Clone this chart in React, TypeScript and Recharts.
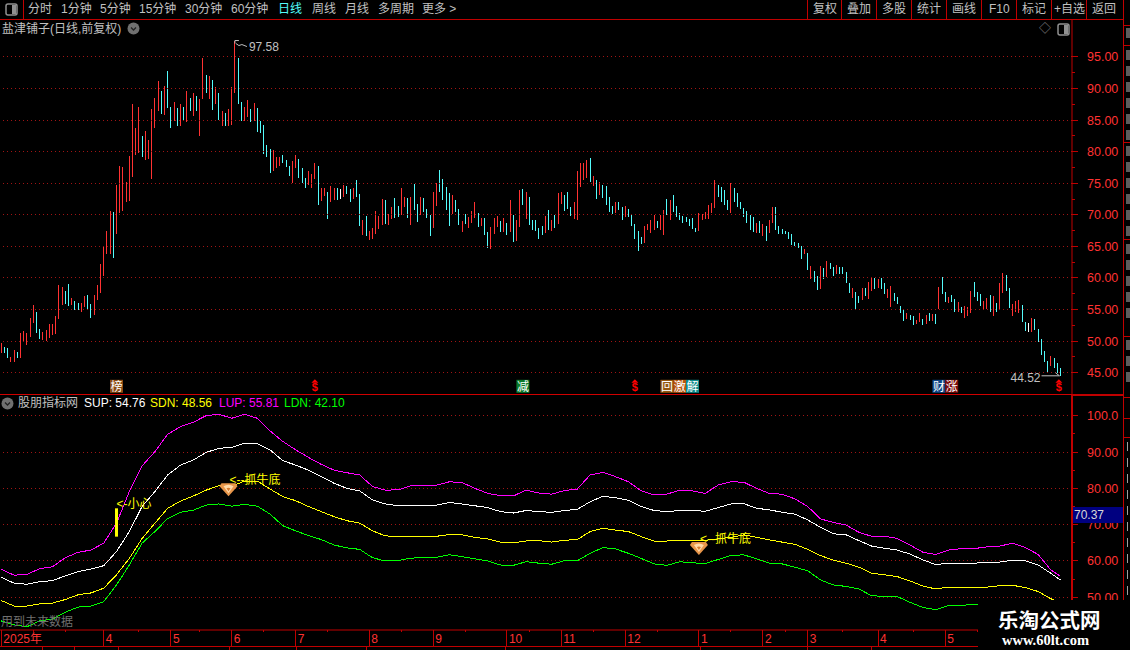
import React from "react";
import { Bar, ComposedChart, Line, ReferenceDot, ReferenceLine, XAxis, YAxis } from "recharts";

// daily range of each session
const highs = [
  49.64, 49.01, 48.85, 47.43, 48.53, 48.22, 51.22, 51.54, 51.22, 53.6,
  55.65, 54.55, 51.86, 51.38, 51.7, 52.65, 52.65, 53.91, 58.82, 58.5,
  57.87, 58.98, 56.76, 56.29, 55.97, 55.97, 57.08, 57.24, 55.81, 57.24,
  58.82, 62.14, 64.83, 67.36, 70.68, 70.37, 74.64, 77.65, 77.49, 75.27,
  79.23, 87.46, 83.66, 87.14, 82.55, 83.34, 81.76, 86.67, 88.41, 91.25,
  89.67, 90.46, 92.68, 87.14, 87.93, 86.98, 87.61, 87.14, 89.67, 88.56,
  89.35, 88.88, 88.25, 94.89, 92.2, 92.04, 91.41, 90.3, 89.35, 86.35,
  86.19, 86.82, 90.15, 97.58, 94.89, 87.93, 87.14, 88.09, 86.67, 87.77,
  86.98, 84.77, 84.29, 80.97, 80.49, 80.18, 79.07, 79.07, 79.39, 78.75,
  77.8, 78.44, 79.39, 78.91, 77.33, 75.75, 76.86, 76.38, 78.12, 77.65,
  74.32, 74.17, 73.53, 74.48, 74.17, 74.17, 74.01, 74.64, 74.48, 74.01,
  74.32, 75.43, 73.25, 69.13, 69.77, 67.39, 67.87, 70.56, 69.77, 72.46,
  72.3, 70.08, 71.19, 72.62, 71.35, 74.2, 72.77, 72.62, 72.77, 74.83,
  71.67, 72.77, 72.62, 70.87, 69.93, 73.57, 74.99, 77.05, 75.62, 74.36,
  73.41, 73.09, 72.3, 70.87, 68.98, 70.08, 69.61, 70.56, 71.98, 70.24,
  69.45, 69.45, 67.24, 68.03, 69.45, 69.77, 68.98, 69.45, 68.66, 72.3,
  69.93, 69.13, 73.88, 74.04, 73.57, 72.77, 69.13, 69.13, 67.87, 68.18,
  69.77, 70.72, 69.13, 69.93, 73.41, 73.57, 73.09, 73.57, 71.19, 71.98,
  76.89, 78.15, 78.15, 78.63, 78.94, 76.1, 75.46, 75.15, 74.67, 74.51,
  72.77, 71.35, 71.98, 71.98, 71.19, 71.35, 70.87, 70.08, 68.5, 67.39,
  66.44, 68.18, 68.5, 69.13, 69.93, 68.98, 69.93, 70.72, 72.46, 72.3,
  73.09, 71.35, 70.24, 69.77, 69.61, 69.29, 69.45, 67.87, 70.24, 70.08,
  70.4, 71.51, 71.82, 75.46, 74.67, 74.42, 73.95, 72.36, 75.05, 74.26,
  73.47, 72.05, 71.1, 70.62, 69.99, 69.67, 68.72, 69.04, 68.57, 68.25,
  69.2, 71.26, 71.26, 68.25, 67.78, 67.46, 67.3, 66.98, 65.72, 65.56,
  65.08, 64.61, 63.98, 61.92, 61.13, 60.34, 61.92, 61.6, 62.71, 62.4,
  61.76, 62.08, 61.76, 61.76, 60.97, 59.23, 58.44, 57.81, 57.17, 58.44,
  58.44, 59.39, 60.18, 60.02, 59.86, 60.02, 59.23, 58.28, 58.76, 57.65,
  57.02, 55.62, 55.15, 54.51, 54.2, 54.04, 53.41, 54.51, 53.56, 54.2,
  54.51, 54.35, 54.35, 58.63, 60.21, 57.84, 57.04, 57.36, 56.73, 56.25,
  55.46, 55.62, 55.46, 57.99, 59.42, 57.84, 57.52, 56.41, 56.89, 57.36,
  57.2, 56.09, 59.26, 60.84, 60.53, 58.47, 55.94, 56.41, 56.57, 55.78,
  53.09, 52.93, 53.72, 53.56, 51.98, 50.4, 48.5, 46.92, 47.71, 47.39,
  46.6, 45.81,
];
const lows = [
  48.06, 48.06, 47.27, 46.64, 46.64, 47.27, 47.27, 49.8, 49.33, 50.59,
  52.81, 51.22, 50.27, 50.12, 49.96, 50.43, 50.91, 51.07, 53.44, 55.65,
  55.81, 55.5, 55.65, 54.86, 54.86, 54.55, 55.34, 54.86, 53.6, 54.07,
  56.44, 57.55, 60.24, 63.72, 63.72, 63.09, 66.89, 70.21, 70.53, 71.95,
  72.11, 76.06, 79.39, 79.86, 79.07, 78.6, 78.91, 75.59, 83.66, 86.35,
  86.03, 85.87, 86.98, 83.66, 84.92, 84.13, 84.13, 85.08, 84.61, 86.35,
  85.56, 86.35, 82.55, 88.25, 89.2, 88.25, 86.51, 87.46, 85.08, 84.13,
  84.13, 83.98, 84.29, 89.2, 87.46, 84.92, 84.92, 85.4, 84.61, 84.77,
  83.03, 82.87, 79.55, 79.07, 76.54, 76.86, 77.33, 77.65, 78.12, 77.49,
  76.22, 75.11, 77.33, 75.75, 75.11, 74.32, 74.64, 74.32, 75.59, 71.63,
  72.11, 72.9, 69.26, 71.95, 72.27, 72.27, 72.43, 72.74, 73.22, 71.95,
  72.58, 72.74, 68.18, 66.76, 66.6, 65.97, 66.13, 66.92, 67.71, 68.34,
  68.5, 68.34, 69.29, 69.45, 69.61, 69.93, 71.19, 69.45, 68.34, 70.72,
  68.82, 69.93, 70.4, 69.45, 66.6, 67.87, 71.35, 73.57, 72.3, 70.72,
  68.18, 70.08, 70.4, 68.34, 67.24, 68.5, 67.87, 68.66, 69.45, 68.03,
  68.18, 66.76, 64.7, 64.55, 66.92, 68.03, 67.24, 67.24, 66.76, 67.24,
  65.65, 65.81, 68.03, 71.51, 69.29, 68.34, 67.55, 67.39, 66.13, 66.76,
  67.08, 67.55, 67.39, 67.87, 68.5, 71.67, 70.56, 70.87, 69.77, 69.29,
  69.13, 74.36, 75.46, 75.78, 75.15, 74.51, 72.46, 73.09, 72.62, 71.51,
  70.4, 70.08, 70.24, 70.72, 69.13, 69.61, 69.61, 68.18, 66.13, 64.23,
  65.34, 65.5, 67.55, 67.08, 67.55, 67.87, 67.55, 66.76, 69.93, 69.13,
  70.4, 69.61, 69.13, 68.66, 68.82, 68.18, 67.71, 67.24, 67.39, 69.13,
  69.29, 69.29, 70.24, 71.03, 72.77, 72.05, 71.57, 70.78, 70.31, 72.05,
  71.26, 70.94, 69.67, 68.72, 67.62, 67.3, 67.14, 67.14, 66.67, 65.88,
  67.14, 68.72, 67.62, 66.98, 66.98, 66.98, 66.19, 65.24, 65.08, 64.77,
  63.03, 63.82, 61.29, 59.86, 59.39, 58.12, 58.28, 59.86, 60.18, 61.45,
  60.34, 60.66, 60.66, 60.66, 59.23, 57.65, 56.86, 55.12, 56.07, 56.54,
  57.17, 56.7, 57.97, 58.28, 58.44, 58.28, 57.49, 56.86, 55.43, 56.38,
  55.91, 54.51, 53.25, 53.56, 53.41, 52.61, 52.77, 53.09, 52.61, 52.77,
  53.25, 53.25, 52.77, 55.15, 57.52, 56.25, 56.09, 56.25, 54.67, 54.67,
  54.51, 53.72, 54.04, 54.51, 57.04, 56.41, 55.62, 54.99, 55.15, 54.67,
  54.04, 54.67, 54.99, 57.68, 57.99, 55.3, 54.04, 54.67, 54.51, 53.09,
  51.66, 51.51, 51.51, 51.82, 49.92, 47.87, 46.76, 45.18, 46.13, 45.81,
  45.02, 44.52,
];
// r = up, c = down, w = flat
const dayDirs = [
  "rccrrcrrrr", "rccrrrrrrr", "ccrccrrccr", "rrrrrcrrrr", "rrrrcrrrrr", "crccrcrcrc", "rcrrcrcrcr",
  "crrrccrrcr", "cccccrrrcc", "crrcccrrrc", "rrcrrcwrcc", "rccrcrrrrr", "crrccrrcrc", "crcccrrccc",
  "crccrcrrrc", "rccrrrcrcr", "crrcrccccc", "rcrcrrcccr", "rrrrcrcrcc", "ccrccrcccc", "crrrrcrrcr",
  "ccccccccrr", "rrrrccccrc", "ccccccrcrc", "rrcccccccc", "crcrccrcrc", "crccccrccr", "crrcrccrrc",
  "cccrccrrcr", "crcrccrccr", "crrrcccrrc", "rcrrccrrrc", "cwrcccccrc", "cc",
].join("");

// indicator bands, sampled every few sessions
const bandDays = [
  0, 4, 8, 12, 16, 20, 24, 28, 32, 36, 40, 44, 48, 52, 56, 60, 64, 68, 72, 76, 80,
  84, 88, 92, 96, 100, 104, 108, 112, 116, 120, 124, 128, 132, 136, 140, 144, 148, 152, 156, 160,
  164, 168, 172, 176, 180, 184, 188, 192, 196, 200, 204, 208, 212, 216, 220, 224, 228, 232, 236, 240,
  244, 248, 252, 256, 260, 264, 268, 272, 276, 280, 284, 288, 292, 296, 300, 304, 308, 312, 316, 320,
  324, 328, 331,
];
const lupValues = [
  57.7, 56.1, 56.3, 57.9, 58.4, 60.9, 62.4, 63.0, 64.9, 70.4, 79.1, 86.2, 90.1, 94.9, 97.0, 98.2, 100.0, 100.4, 99.3, 100.4, 99.3,
  95.8, 92.9, 90.6, 88.5, 86.6, 85.0, 84.3, 83.7, 80.5, 79.5, 79.6, 80.7, 80.8, 80.9, 81.8, 81.6, 80.0, 78.6, 78.0, 77.9,
  79.5, 78.7, 78.4, 79.4, 79.8, 83.7, 84.4, 83.2, 81.8, 79.3, 78.2, 78.4, 79.5, 79.3, 78.6, 80.9, 81.8, 81.7, 80.0, 78.6,
  78.4, 77.1, 75.0, 71.6, 70.6, 69.9, 67.9, 66.8, 66.8, 66.2, 64.4, 62.4, 61.8, 63.0, 63.4, 63.4, 63.9, 64.1, 64.9, 63.7,
  61.8, 57.5, 55.81,
];
const supValues = [
  55.5, 53.9, 53.6, 54.3, 54.6, 55.9, 57.1, 57.8, 58.7, 62.6, 68.1, 75.0, 79.1, 83.7, 86.4, 87.8, 89.9, 91.0, 91.3, 92.4, 92.3,
  90.6, 87.6, 86.4, 85.0, 83.2, 81.4, 80.0, 79.3, 76.8, 75.7, 75.2, 75.3, 75.3, 75.4, 76.1, 75.7, 75.2, 74.7, 73.6, 73.2,
  73.9, 73.6, 73.4, 73.9, 74.2, 76.3, 77.8, 77.4, 76.7, 75.0, 73.9, 73.6, 73.9, 73.9, 73.7, 74.7, 75.7, 75.8, 74.5, 74.1,
  73.4, 72.9, 71.3, 69.3, 67.5, 67.2, 65.6, 64.1, 63.5, 63.0, 61.9, 60.3, 59.0, 59.4, 59.4, 59.4, 59.6, 59.7, 60.2, 60.1,
  58.9, 56.6, 54.76,
];
const sdnValues = [
  49.1, 47.6, 47.6, 48.2, 48.4, 49.4, 50.7, 51.2, 52.5, 56.2, 60.7, 66.2, 70.4, 74.5, 76.5, 77.9, 79.5, 80.7, 80.6, 82.0, 82.0,
  79.8, 77.7, 76.6, 75.0, 73.6, 72.2, 71.1, 70.4, 68.3, 66.9, 66.8, 66.8, 66.8, 66.8, 67.3, 67.2, 66.5, 66.1, 65.2, 65.0,
  65.5, 65.6, 65.2, 65.7, 65.9, 68.1, 69.0, 68.5, 68.1, 66.7, 65.5, 65.5, 65.7, 65.7, 65.7, 66.1, 66.5, 67.2, 66.5, 65.8,
  65.2, 64.6, 63.2, 61.5, 60.2, 59.4, 58.3, 56.6, 56.2, 55.7, 54.5, 53.1, 52.3, 52.8, 52.6, 52.8, 52.8, 53.2, 53.3, 52.7,
  51.6, 49.6, 48.56,
];
const ldnValues = [
  43.5, 42.4, 41.9, 43.5, 44.0, 45.9, 47.3, 47.6, 48.8, 53.4, 58.9, 64.9, 68.1, 71.7, 73.4, 74.0, 75.4, 75.7, 75.1, 75.6, 75.1,
  72.9, 69.7, 68.3, 67.0, 65.9, 64.4, 63.6, 63.2, 60.9, 60.0, 60.1, 60.8, 60.9, 61.0, 61.7, 61.2, 60.6, 60.0, 58.9, 58.8,
  59.8, 59.4, 59.1, 60.1, 60.1, 62.1, 63.7, 63.3, 62.1, 60.7, 59.2, 58.8, 59.8, 59.5, 59.3, 60.4, 61.5, 61.7, 60.6, 59.4,
  59.2, 58.3, 57.3, 54.8, 53.4, 53.0, 52.3, 50.4, 50.3, 50.2, 48.6, 47.2, 46.6, 47.7, 47.8, 48.0, 48.1, 48.3, 48.4, 47.4,
  46.1, 43.3, 42.1,
];

// axis labels
const priceMajor = [45, 50, 55, 60, 65, 70, 75, 80, 85, 90, 95];
const priceMinor = [47.5, 52.5, 57.5, 62.5, 67.5, 72.5, 77.5, 82.5, 87.5, 92.5];
const bandMajor = [50, 60, 70, 80, 90, 100];
const bandMinor = [55, 65, 75, 85, 95];
const monthDays = [0, 32, 53, 72, 92, 115, 135, 158, 175, 195, 218, 238, 252, 274, 295];
const monthNames = ["2025年", "4", "5", "6", "7", "8", "9", "10", "11", "12", "1", "2", "3", "4", "5"];
const weekDays = [
  10, 20, 43, 62, 82, 102, 125, 145, 165, 185, 205, 228, 245, 263, 285, 305, 315,
];

// event chips along the bottom of the price panel
const eventDays = [36, 163, 208, 212, 216, 293, 297];
const eventNames = ["榜", "减", "回", "激", "解", "财", "涨"];
const eventFills = ["#8a4a12", "#0b7a2a", "#94560f", "#b8560f", "#0f8c8c", "#0d4486", "#7c0c0c"];
const dollarDays = [98, 198, 330.5];
const bottomDays = [71, 218];
const bottomValues = [80, 63.85];

const RED = "#ff3232";
const LINE_RED = "#c00000";
const GRID_RED = "#a01414";
const GRAY = "#c0c0c0";
const FONT = '"Liberation Sans","Noto Sans CJK SC",sans-serif';

const dirColour: Record<string, string> = { r: RED, c: "#54fcfc", w: "#ffffff" };
const priceRows = highs.map((h, i) => ({ day: i, range: [lows[i], h], dir: dayDirs[i] }));
const bandRows = bandDays.map((d, i) => ({
  day: d,
  lup: lupValues[i],
  sup: supValues[i],
  sdn: sdnValues[i],
  ldn: ldnValues[i],
}));

// shared horizontal scale for both panels
const DAY_DOMAIN = [-0.40625, 334.59375];

const DayBar = (props: any) => {
  const { x, y, width, height, payload } = props;
  return (
    <rect
      x={Math.floor(x + width / 2)}
      y={y}
      width={1}
      height={height}
      fill={dirColour[payload.dir]}
      shapeRendering="crispEdges"
    />
  );
};

const makeAxisTick = (major: number[], label: (v: number) => string) => (props: any) => {
  const { x, y, payload } = props;
  const isMajor = major.includes(payload.value);
  return (
    <g>
      <line x1={x} x2={x + (isMajor ? 6 : 3)} y1={y} y2={y} stroke={LINE_RED} shapeRendering="crispEdges" />
      {isMajor && (
        <text x={x + 15} y={y + 4.5} fill={RED} fontSize={12.5} fontFamily={FONT}>
          {label(payload.value)}
        </text>
      )}
    </g>
  );
};
const PriceTick = makeAxisTick(priceMajor, (v) => v.toFixed(2));
const BandTick = makeAxisTick(bandMajor, (v) => (v === 100 ? "100.0" : v.toFixed(2)));

const MonthTick = (props: any) => {
  const { x, y, payload } = props;
  const at = monthDays.indexOf(payload.value);
  if (at < 0) {
    return <line x1={x} x2={x} y1={y} y2={y + 2} stroke={LINE_RED} shapeRendering="crispEdges" />;
  }
  return (
    <g>
      <line x1={x} x2={x} y1={y} y2={y + 16} stroke={LINE_RED} shapeRendering="crispEdges" />
      <text x={x + 2} y={y + 13} fill={RED} fontSize={12} fontFamily={FONT}>
        {monthNames[at]}
      </text>
    </g>
  );
};

const EventChip = (props: any) => {
  const { cx, cy, name, fill } = props;
  return (
    <g>
      <rect x={cx - 6.5} y={cy - 6.5} width={13} height={13} fill={fill} />
      <text x={cx} y={cy + 5} textAnchor="middle" fill="#fff" fontSize={12} fontFamily={FONT}>
        {name}
      </text>
    </g>
  );
};

const DollarMark = (props: any) => {
  const { cx, cy } = props;
  return (
    <g>
      <path d={`M${cx} ${cy - 7}l3.5 3.5h-7z`} fill="#ff0000" />
      <text x={cx} y={cy + 5} textAnchor="middle" fill="#ff0000" fontSize={11} fontWeight={700} fontFamily={FONT}>
        $
      </text>
    </g>
  );
};

const HighMark = (props: any) => {
  const { cx, cy } = props;
  return (
    <g>
      <path d={`M${cx} ${cy + 3}v-3h4M${cx + 1} ${cy + 3}l3 2 3 -1 5 2`} fill="none" stroke={GRAY} />
      <text x={cx + 14} y={cy + 10} fill={GRAY} fontSize={12} fontFamily={FONT}>
        97.58
      </text>
    </g>
  );
};

const LowMark = (props: any) => {
  const { cx, cy } = props;
  return (
    <g>
      <path d={`M${cx - 19} ${cy}h18M${cx - 5} ${cy - 3}l4 3`} fill="none" stroke={GRAY} />
      <text x={cx - 50} y={cy + 6} fill={GRAY} fontSize={12} fontFamily={FONT}>
        44.52
      </text>
    </g>
  );
};

const BottomMark = (props: any) => {
  const { cx, cy } = props;
  return (
    <g>
      <path d={`M${cx - 7} ${cy - 5}h14l2 3-9 10-9-10z`} fill="#e8964a" />
      <path d={`M${cx - 5} ${cy - 2}q5 -3 10 0l-5 7z`} fill="#ffd9a8" />
      <path d={`M${cx - 2} ${cy}q2 -1 4 0l-2 3z`} fill="#d87a30" />
      <text x={cx + 1} y={cy - 4} fill="#ffff00" fontSize={12} fontFamily={FONT}>
        {"<--抓牛底"}
      </text>
    </g>
  );
};

const CareMark = (props: any) => {
  const { cx, cy } = props;
  return (
    <text x={cx} y={cy} fill="#ffff00" fontSize={12} fontFamily={FONT}>
      {"<-小心"}
    </text>
  );
};

// plain page furniture around the two panels
const Label = ({ x, y, color = GRAY, size = 12, children, weight, family }: any) => (
  <span
    style={{
      position: "absolute",
      left: x,
      top: y,
      color,
      fontSize: size,
      lineHeight: "16px",
      whiteSpace: "nowrap",
      fontWeight: weight,
      fontFamily: family || FONT,
    }}
  >
    {children}
  </span>
);
const Rule = ({ x, y, w, h, color = LINE_RED }: any) => (
  <div style={{ position: "absolute", left: x, top: y, width: w, height: h, background: color }} />
);
const RoundIcon = ({ x, y }: any) => (
  <svg style={{ position: "absolute", left: x, top: y }} width={13} height={13}>
    <circle cx={6.5} cy={6.5} r={6} fill="#707070" />
    <path d="M4 5.5l2.5 2.5 2.5-2.5" fill="none" stroke="#222" strokeWidth={1.3} />
  </svg>
);
const PanelIcon = ({ x, y }: any) => (
  <svg style={{ position: "absolute", left: x, top: y }} width={13} height={13}>
    <rect x={1} y={1} width={11} height={11} rx={2} fill="none" stroke="#909090" strokeWidth={1.5} />
    <rect x={7} y={2} width={4} height={9} fill="#909090" />
  </svg>
);

const toolbarLeft = ["分时", "1分钟", "5分钟", "15分钟", "30分钟", "60分钟", "日线", "周线", "月线", "多周期", "更多 >"];
const toolbarLeftX = [28, 61, 100, 139, 185, 231, 278, 312, 345, 378, 422];
const toolbarRight = ["复权", "叠加", "多股", "统计", "画线", "F10", "标记", "+自选", "返回"];
const toolbarRightX = [813, 847, 882, 917, 952, 989, 1022, 1054, 1092];
const toolbarRules = [807, 841, 876, 911, 946, 981, 1016, 1051, 1086, 1123];
const sideRules = [25, 45, 142, 239, 336, 397, 418, 437];
const sideRows = [28, 50, 66, 82, 98, 114, 130, 146, 162, 178, 194, 210, 226, 244, 260, 276, 292, 308, 340, 356, 372];
const sideDigitRows = [442, 458, 474, 490, 506, 522, 538, 554, 570, 586];
const bottomRules = [42, 74, 118, 229, 296, 366, 505, 700, 807, 871];

export default function App() {
  return (
    <div
      style={{
        position: "fixed",
        left: 0,
        top: 0,
        width: 1130,
        height: 650,
        background: "#000",
        overflow: "hidden",
        fontFamily: FONT,
      }}
    >
      <div style={{ position: "absolute", left: 0, top: 20 }}>
        <ComposedChart width={1130} height={374} data={priceRows} margin={{ top: 0, right: 0, bottom: 0, left: 0 }}>
          <XAxis dataKey="day" type="number" domain={DAY_DOMAIN} allowDataOverflow hide />
          <YAxis
            orientation="right"
            width={58}
            domain={[41.64, 100.83]}
            allowDataOverflow
            ticks={[...priceMajor, ...priceMinor]}
            interval={0}
            tick={PriceTick}
            tickLine={false}
            tickSize={0}
            tickMargin={0}
            axisLine={{ stroke: LINE_RED }}
          />
          {priceMajor.map((v) => (
            <ReferenceLine key={v} y={v} stroke={GRID_RED} strokeDasharray="1 3" shapeRendering="crispEdges" />
          ))}
          <Bar dataKey="range" barSize={1} shape={DayBar} isAnimationActive={false} />
          <ReferenceDot x={73} y={97.58} shape={HighMark} />
          <ReferenceDot x={331} y={44.52} shape={LowMark} />
          {eventDays.map((d, i) => (
            <ReferenceDot
              key={d}
              x={d}
              y={42.86}
              shape={(p: any) => <EventChip {...p} name={eventNames[i]} fill={eventFills[i]} />}
            />
          ))}
          {dollarDays.map((d) => (
            <ReferenceDot key={d} x={d} y={42.86} shape={DollarMark} />
          ))}
        </ComposedChart>
      </div>

      <div style={{ position: "absolute", left: 0, top: 395 }}>
        <ComposedChart width={1130} height={251} data={bandRows} margin={{ top: 0, right: 0, bottom: 0, left: 0 }}>
          <XAxis
            dataKey="day"
            type="number"
            domain={DAY_DOMAIN}
            allowDataOverflow
            height={16}
            ticks={[...monthDays, ...weekDays]}
            interval={0}
            tick={MonthTick}
            tickLine={false}
            tickSize={0}
            tickMargin={0}
            axisLine={{ stroke: LINE_RED }}
          />
          <YAxis
            orientation="right"
            width={58}
            domain={[41, 105.7]}
            allowDataOverflow
            ticks={[...bandMajor, ...bandMinor]}
            interval={0}
            tick={BandTick}
            tickLine={false}
            tickSize={0}
            tickMargin={0}
            axisLine={{ stroke: LINE_RED, strokeWidth: 2 }}
          />
          {bandMajor.map((v) => (
            <ReferenceLine key={v} y={v} stroke={GRID_RED} strokeDasharray="1 3" shapeRendering="crispEdges" />
          ))}
          <Line dataKey="lup" stroke="#ff00ff" dot={false} strokeWidth={1} shapeRendering="crispEdges" isAnimationActive={false} />
          <Line dataKey="sup" stroke="#ffffff" dot={false} strokeWidth={1} shapeRendering="crispEdges" isAnimationActive={false} />
          <Line dataKey="sdn" stroke="#ffff00" dot={false} strokeWidth={1} shapeRendering="crispEdges" isAnimationActive={false} />
          <Line dataKey="ldn" stroke="#00ff00" dot={false} strokeWidth={1} shapeRendering="crispEdges" isAnimationActive={false} />
          <ReferenceLine
            segment={[
              { x: 36, y: 74.5 },
              { x: 36, y: 66.7 },
            ]}
            stroke="#ffff00"
            strokeWidth={3}
          />
          <ReferenceDot x={36} y={74.5} shape={CareMark} />
          {bottomDays.map((d, i) => (
            <ReferenceDot key={d} x={d} y={bottomValues[i]} shape={BottomMark} />
          ))}
        </ComposedChart>
      </div>

      {/* toolbar */}
      <Rule x={0} y={19} w={1123} h={1} />
      <Rule x={23} y={0} w={1} h={19} />
      <PanelIcon x={5} y={3} />
      {toolbarLeft.map((t, i) => (
        <Label key={t} x={toolbarLeftX[i]} y={1} color={t === "日线" ? "#54fcfc" : GRAY}>
          {t}
        </Label>
      ))}
      {toolbarRight.map((t, i) => (
        <Label key={t} x={toolbarRightX[i]} y={1}>
          {t}
        </Label>
      ))}
      {toolbarRules.map((x) => (
        <Rule key={x} x={x} y={0} w={1} h={19} />
      ))}

      {/* side panel edge: only slivers of its unreadable text show, drawn as strokes */}
      <Rule x={1123} y={0} w={1} h={600} />
      {sideRules.map((y) => (
        <Rule key={y} x={1124} y={y} w={6} h={1} />
      ))}
      {sideRows.map((y) => (
        <Rule key={y} x={1126} y={y} w={4} h={10} color="#5c5c5c" />
      ))}
      {sideDigitRows.map((y) => (
        <Rule key={y} x={1127} y={y} w={1} h={9} color="#a0a0a0" />
      ))}

      {/* price panel title */}
      <Label x={2} y={21}>盐津铺子(日线,前复权)</Label>
      <RoundIcon x={127} y={22} />
      <Label x={1039} y={21} color="#808080">◇</Label>
      <PanelIcon x={1057} y={23} />

      {/* band panel title */}
      <Rule x={0} y={394} w={1072} h={1} color="#d00000" />
      <Rule x={1072} y={394} w={52} h={2} />
      <RoundIcon x={1} y={397} />
      <Label x={18} y={395}>股朋指标网</Label>
      <Label x={84} y={395} color="#ffffff">SUP: 54.76</Label>
      <Label x={150} y={395} color="#ffff00">SDN: 48.56</Label>
      <Label x={219} y={395} color="#ff00ff">LUP: 55.81</Label>
      <Label x={284} y={395} color="#00ff00">LDN: 42.10</Label>
      <div style={{ position: "absolute", left: 1073, top: 507, width: 50, height: 16, background: "#000080" }} />
      <Label x={1074} y={507} color="#d8d8d8">70.37</Label>
      <Label x={1} y={614} color="#707070">用到未来数据</Label>

      {/* date strip bottom */}
      <Rule x={0} y={646} w={978} h={1} />
      {bottomRules.map((x) => (
        <Rule key={x} x={x} y={647} w={1} h={3} />
      ))}

      {/* watermark */}
      <div style={{ position: "absolute", left: 978, top: 600, width: 152, height: 50, background: "#000" }} />
      <Label x={998} y={611} color="#ffffff" size={20.5} weight={700} family='"Noto Sans CJK SC",sans-serif'>
        乐淘公式网
      </Label>
      <Label x={1002} y={632} color="#ffffff" size={14.5} weight={700} family='"Liberation Serif",serif'>
        www.60lt.com
      </Label>
    </div>
  );
}
